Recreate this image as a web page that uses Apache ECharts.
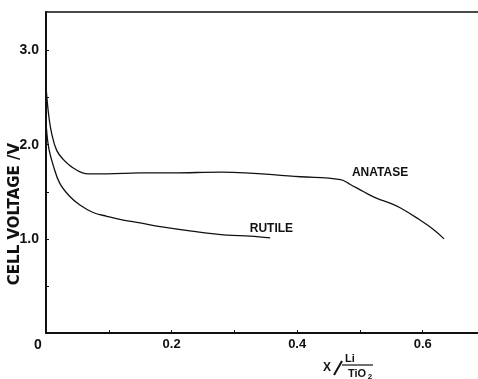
<!DOCTYPE html>
<html>
<head>
<meta charset="utf-8">
<script src="https://cdn.jsdelivr.net/npm/echarts@6/dist/echarts.min.js"></script>
<style>
  html, body { margin: 0; padding: 0; background: #fff; }
  #chart { width: 478px; height: 379px; }
</style>
</head>
<body>
<div id="chart"></div>
<script>
// Discharge curves of Li / TiO2 cells: composition x vs cell voltage (V)
const anataseX = [0.0, 0.004, 0.009, 0.017, 0.028, 0.044, 0.067, 0.097, 0.15, 0.2, 0.28, 0.405, 0.469, 0.484, 0.506, 0.527, 0.548, 0.564, 0.591, 0.617, 0.634];
const anataseV = [2.62, 2.33, 2.12, 1.94, 1.84, 1.75, 1.69, 1.69, 1.70, 1.70, 1.71, 1.66, 1.63, 1.58, 1.50, 1.43, 1.38, 1.33, 1.22, 1.10, 1.00];

const rutileX = [0.0, 0.004, 0.012, 0.022, 0.038, 0.054, 0.075, 0.097, 0.123, 0.15, 0.182, 0.235, 0.288, 0.325, 0.357];
const rutileV = [2.25, 1.98, 1.77, 1.59, 1.45, 1.36, 1.28, 1.24, 1.20, 1.17, 1.13, 1.08, 1.04, 1.03, 1.01];

const xTickLabels = { 0: '0', 0.2: '0.2', 0.4: '0.4', 0.6: '0.6' };
const yTickLabels = { 1: '1.0', 2: '2.0', 3: '3.0' };

// Curve names and where their captions sit (data coordinates)
const anataseName = 'ANATASE';
const anataseTag = [0.532, 1.70];
const rutileName = 'RUTILE';
const rutileTag = [0.359, 1.11];

const pair = (xs, ys) => xs.map((x, i) => [x, ys[i]]);
const key = v => Math.round(v * 10) / 10;

const chart = echarts.init(document.getElementById('chart'), null, { renderer: 'canvas' });

const tickFont = 'Liberation Sans, Arial, Helvetica, sans-serif';

const curve = (name, data, tag) => ({
  name,
  type: 'line',
  data,
  showSymbol: false,
  smooth: 0.4,
  lineStyle: { color: '#111', width: 1.3 },
  silent: true,
  markPoint: {
    symbol: 'circle',
    symbolSize: 0,
    silent: true,
    label: {
      show: true,
      position: 'inside',
      formatter: name,
      color: '#111',
      fontFamily: tickFont,
      fontWeight: 'bold',
      fontSize: 12
    },
    data: [{ coord: tag }]
  }
});

chart.setOption({
  animation: false,
  backgroundColor: '#fff',
  grid: { left: 46, right: 0, top: 12, bottom: 46, containLabel: false },
  xAxis: [
    {
      type: 'value',
      min: 0,
      max: 0.688,
      interval: 0.1,
      position: 'bottom',
      axisLine: { show: true, onZero: false, lineStyle: { color: '#111', width: 2 } },
      axisTick: { show: true, inside: true, length: 3, lineStyle: { color: '#111', width: 1 } },
      splitLine: { show: false },
      axisLabel: {
        show: true,
        margin: 5,
        color: '#111',
        fontFamily: tickFont,
        fontWeight: 'bold',
        fontSize: 13,
        showMaxLabel: false,
        formatter: v => {
          const k = key(v);
          if (k === 0) return '{z|0}';
          return xTickLabels[k] || '';
        },
        rich: {
          z: {
            fontFamily: tickFont,
            fontWeight: 'bold',
            fontSize: 14,
            color: '#111',
            padding: [0, 16, 0, 0]
          }
        }
      }
    },
    {
      type: 'value',
      min: 0,
      max: 0.688,
      position: 'top',
      axisLine: { show: true, onZero: false, lineStyle: { color: '#111', width: 1.6 } },
      axisTick: { show: false },
      axisLabel: { show: false },
      splitLine: { show: false }
    }
  ],
  yAxis: {
    type: 'value',
    min: 0,
    max: 3.41,
    interval: 0.5,
    axisLine: { show: true, onZero: false, lineStyle: { color: '#111', width: 2 } },
    axisTick: { show: true, inside: true, length: 3, lineStyle: { color: '#111', width: 1 } },
    splitLine: { show: false },
    axisLabel: {
      show: true,
      margin: 7,
      color: '#111',
      fontFamily: tickFont,
      fontWeight: 'bold',
      fontSize: 14,
      showMaxLabel: false,
      formatter: v => yTickLabels[key(v)] || ''
    }
  },
  series: [
    curve(anataseName, pair(anataseX, anataseV), anataseTag),
    curve(rutileName, pair(rutileX, rutileV), rutileTag)
  ],
  graphic: [
    // y-axis title
    {
      type: 'text',
      x: 15,
      y: 214,
      rotation: Math.PI / 2,
      style: {
        text: 'CELL VOLTAGE /V',
        fill: '#111',
        font: 'bold 15px "DejaVu Sans", sans-serif',
        align: 'center',
        verticalAlign: 'middle'
      }
    },
    // x-axis title: X / (Li over TiO2)
    {
      type: 'text',
      x: 327,
      y: 368,
      style: {
        text: 'X',
        fill: '#111',
        font: 'bold 12px "Liberation Sans", Arial, sans-serif',
        align: 'center',
        verticalAlign: 'middle'
      }
    },
    {
      type: 'line',
      shape: { x1: 334, y1: 375, x2: 342, y2: 361 },
      style: { stroke: '#111', lineWidth: 2 }
    },
    {
      type: 'text',
      x: 350,
      y: 359,
      style: {
        text: 'Li',
        fill: '#111',
        font: 'bold 11px "Liberation Sans", Arial, sans-serif',
        align: 'center',
        verticalAlign: 'middle'
      }
    },
    {
      type: 'line',
      shape: { x1: 342, y1: 365, x2: 373, y2: 365 },
      style: { stroke: '#111', lineWidth: 1.2 }
    },
    {
      type: 'text',
      x: 357,
      y: 374,
      style: {
        text: 'TiO',
        fill: '#111',
        font: 'bold 11px "Liberation Sans", Arial, sans-serif',
        align: 'center',
        verticalAlign: 'middle'
      }
    },
    {
      type: 'text',
      x: 370,
      y: 377,
      style: {
        text: '2',
        fill: '#111',
        font: 'bold 8px "Liberation Sans", Arial, sans-serif',
        align: 'center',
        verticalAlign: 'middle'
      }
    }
  ]
});
</script>
</body>
</html>
